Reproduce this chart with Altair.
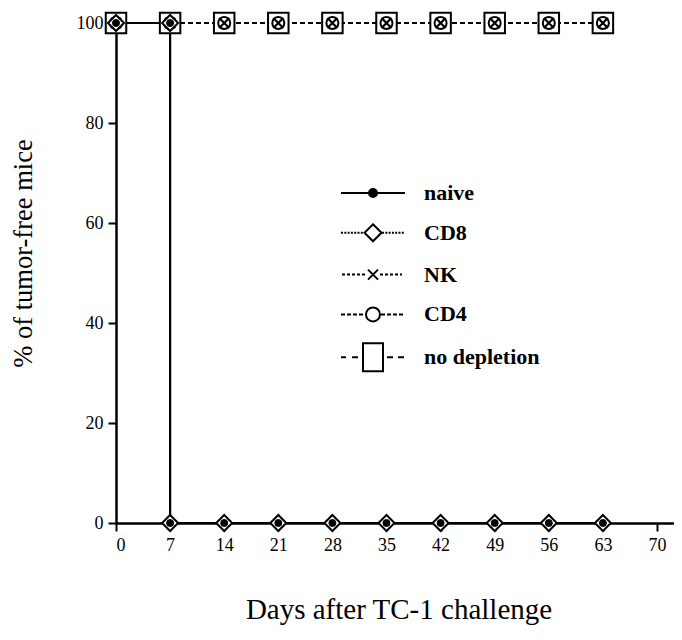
import altair as alt
import pandas as pd

# ---------------- data ----------------
groups = ["naive", "CD8", "NK", "CD4", "no depletion"]
days_dropped = [0, 7, 7, 14, 21, 28, 35, 42, 49, 56, 63]
pct_dropped = [100, 100, 0, 0, 0, 0, 0, 0, 0, 0, 0]
days_kept = [0, 7, 14, 21, 28, 35, 42, 49, 56, 63]
pct_kept = [100, 100, 100, 100, 100, 100, 100, 100, 100, 100]
x_ticks = [0, 7, 14, 21, 28, 35, 42, 49, 56, 63, 70]
y_ticks = [0, 20, 40, 60, 80, 100]

series = {
    "naive": (days_dropped, pct_dropped),
    "CD8": (days_dropped, pct_dropped),
    "NK": (days_kept, pct_kept),
    "CD4": (days_kept, pct_kept),
    "no depletion": (days_kept, pct_kept),
}
rows = []
for g in groups:
    d, p = series[g]
    for i, (dd, pp) in enumerate(zip(d, p)):
        rows.append({"group": g, "day": dd, "pct": pp, "order": i})
df = pd.DataFrame(rows)

FONT = "Liberation Serif"

# ---------------- legend symbol paths (line sample + marker) ----------------
U = 15.0  # px per path unit (sqrt(900)/2)


def f(v):
    return f"{v / U:.3f}"


def seg(x0, x1, dash=None, gap=None):
    if dash is None:
        return f"M{f(x0)},0H{f(x1)}"
    out, x = [], x0
    while x < x1:
        e = min(x + dash, x1)
        out.append(f"M{f(x)},0H{f(e)}")
        x = e + gap
    return "".join(out)


def circ(r):
    return f"M{f(-r)},0A{f(r)},{f(r)} 0 1,0 {f(r)},0A{f(r)},{f(r)} 0 1,0 {f(-r)},0Z"


p_naive = seg(-32, 32) + circ(4)
p_cd8 = seg(-32, -9, 2, 1.3) + seg(9, 32, 2, 1.3) + f"M0,{f(-8.5)}L{f(8.5)},0L0,{f(8.5)}L{f(-8.5)},0Z"
p_nk = seg(-31, -7, 3, 2) + seg(7, 29, 3, 2) + f"M{f(-5)},{f(-5)}L{f(5)},{f(5)}M{f(-5)},{f(5)}L{f(5)},{f(-5)}"
p_cd4 = seg(-32, -8, 4, 2) + seg(8, 31, 4, 2) + circ(7)
p_none = seg(-32, -27) + seg(-21, -15) + seg(14, 20) + seg(25, 31) + f"M{f(-10)},{f(-14)}H{f(10)}V{f(14)}H{f(-10)}Z"
legend_paths = [p_naive, p_cd8, p_nk, p_cd4, p_none]
legend_fills = ["black", "white", "white", "white", "white"]
legend_strokes = ["black", "black", "black", "black", "black"]

x_enc = alt.X("day:Q", scale=alt.Scale(domain=[0, 72.2], nice=False, zero=True),
              axis=alt.Axis(values=x_ticks, title="Days after TC-1 challenge",
                            titleX=282.5, titleY=95, titleAlign="center",
                            titleBaseline="alphabetic"))
y_enc = alt.Y("pct:Q", scale=alt.Scale(domain=[0, 100], nice=False),
              axis=alt.Axis(values=y_ticks, title="% of tumor-free mice",
                            titleX=-93, titleY=230, titleAlign="center",
                            titleBaseline="middle", titleAngle=270))

base = alt.Chart(df).encode(x=x_enc, y=y_enc, order=alt.Order("order:Q"))

line_styles = {
    "CD8": [2, 2],
    "NK": [5, 3],
    "CD4": [5, 3],
    "no depletion": [5, 3],
}

layers = []
for g in ["no depletion", "CD4", "NK", "CD8"]:
    layers.append(base.transform_filter(alt.datum.group == g)
                  .mark_line(color="black", strokeWidth=2, strokeDash=line_styles[g]))
layers.append(base.transform_filter(alt.datum.group == "naive")
              .mark_line(color="black", strokeWidth=2.2))

# markers
layers.append(base.transform_filter(alt.datum.group == "no depletion")
              .mark_point(shape="square", size=420, filled=True, fill="white",
                          stroke="black", strokeWidth=2, opacity=1))
layers.append(base.transform_filter(alt.datum.group == "CD4")
              .mark_point(shape="circle", size=144, filled=True, fill="white",
                          stroke="black", strokeWidth=2, opacity=1))
layers.append(base.transform_filter(alt.datum.group == "NK")
              .mark_point(shape="M-1,-1L1,1M-1,1L1,-1", size=100, filled=False,
                          stroke="black", strokeWidth=2.2, opacity=1))
layers.append(base.transform_filter(alt.datum.group == "CD8")
              .mark_point(shape="diamond", size=256, filled=True, fill="white",
                          stroke="black", strokeWidth=2, opacity=1))
layers.append(base.transform_filter(alt.datum.group == "naive")
              .mark_point(shape="circle", size=49, filled=True, fill="black",
                          stroke="black", strokeWidth=1, opacity=1))

# legend-only layer
leg = alt.Legend(title=None, orient="none", legendX=241, legendY=154,
                 labelFont=FONT, labelFontSize=22, labelFontWeight="bold",
                 labelColor="black", labelOffset=35, rowPadding=12.8,
                 symbolSize=900, symbolStrokeWidth=2, symbolStrokeColor="black",
                 padding=0, labelLimit=300)
legend_layer = (alt.Chart(df).transform_filter("false")
                .mark_point(filled=True, strokeWidth=2, opacity=1)
                .encode(x=x_enc, y=y_enc,
                        shape=alt.Shape("group:N", scale=alt.Scale(domain=groups, range=legend_paths), legend=leg),
                        fill=alt.Fill("group:N", scale=alt.Scale(domain=groups, range=legend_fills), legend=leg),
                        stroke=alt.Stroke("group:N", scale=alt.Scale(domain=groups, range=legend_strokes), legend=leg)))
layers.append(legend_layer)

chart = (alt.layer(*layers)
         .properties(width=558, height=500,
                     autosize=alt.AutoSizeParams(type="none"),
                     padding={"left": 108, "top": 15, "right": 0, "bottom": 110},
                     background="white")
         .configure_view(stroke=None)
         .configure_axis(grid=False, domainColor="black", domainWidth=2.5,
                         tickColor="black", tickWidth=2, tickSize=8,
                         labelFont=FONT, labelFontSize=18, labelColor="black",
                         titleFont=FONT, titleFontWeight="normal", titleColor="black")
         .configure_axisX(labelPadding=5, titleFontSize=29)
         .configure_axisY(labelPadding=5, titleFontSize=26.5))

chart.save("out.html", embed_options={"renderer": "svg", "actions": False})
